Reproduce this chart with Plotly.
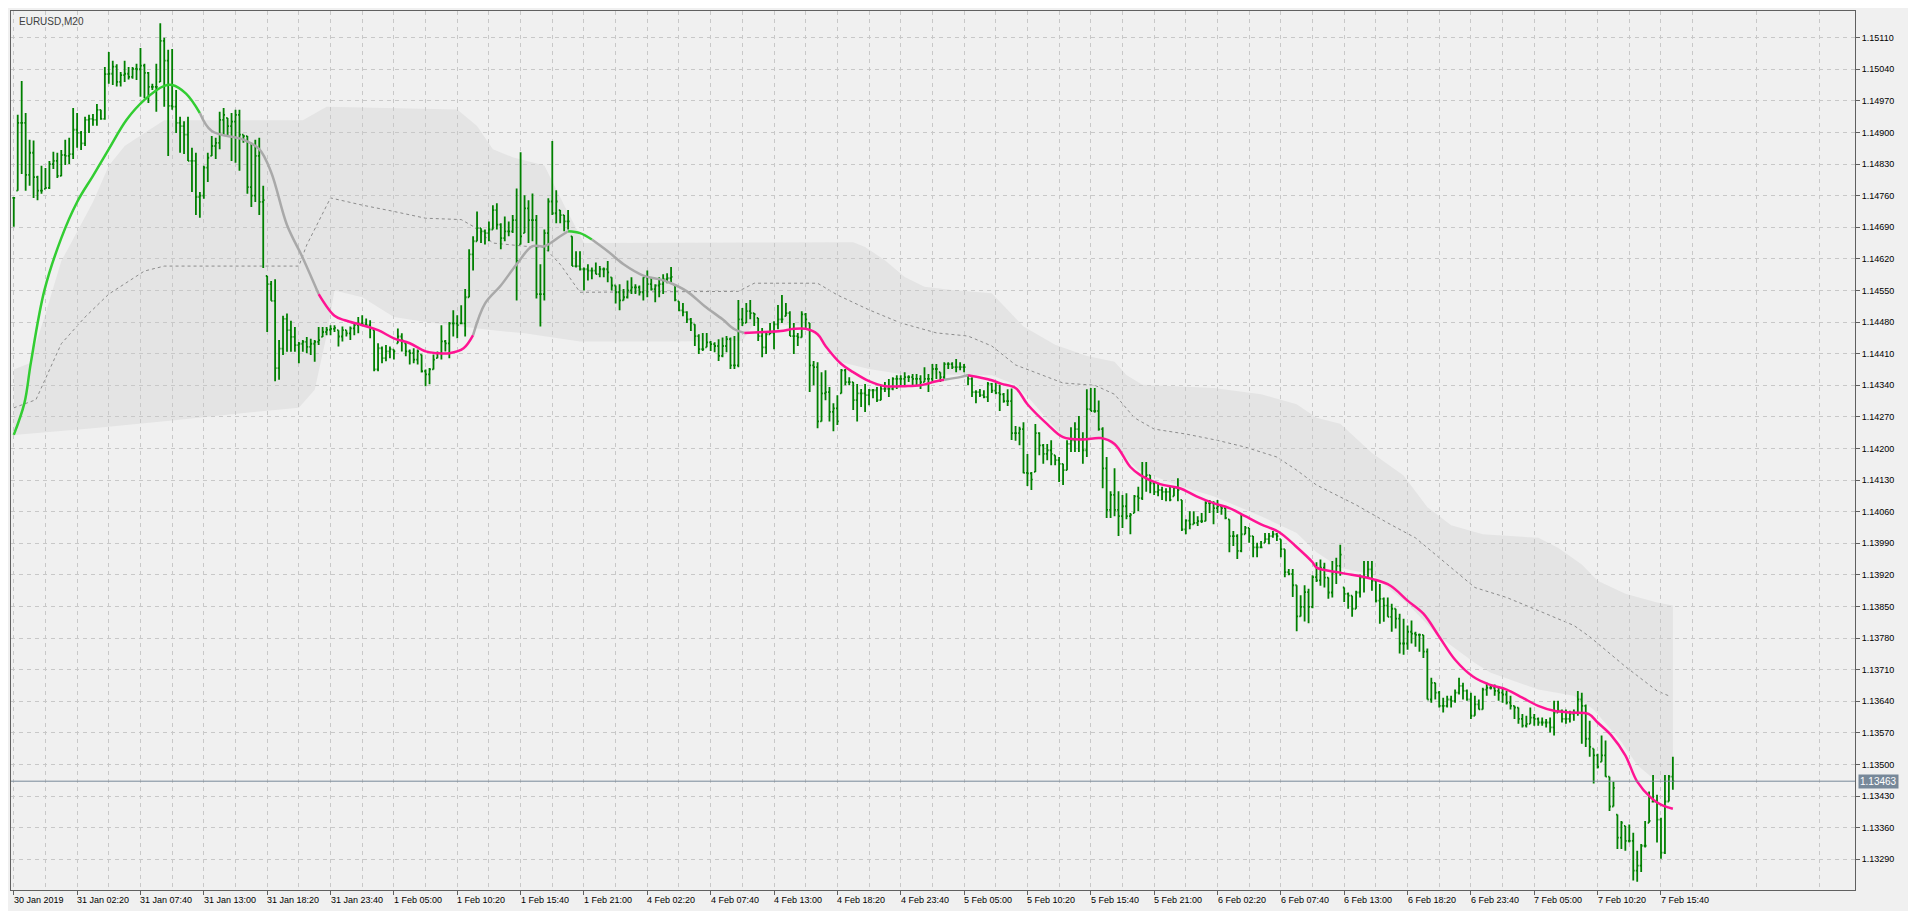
import plotly.graph_objects as go

# EURUSD M20, prices in points above 1.10000 (1 point = 0.00001)
high_pts = [4757, 4939, 5014, 4943, 4884, 4882, 4804, 4826, 4821, 4837, 4857, 4855, 4861, 4884, 4888, 4954, 4943, 4903, 4935, 4939,
            4941, 4963, 4950, 5045, 5078, 5059, 5051, 5034, 5059, 5045, 5045, 5052, 5087, 5052, 5034, 5008, 5052, 5142, 5110, 5083,
            5085, 4994, 4935, 4925, 4935, 4866, 4855, 4768, 4826, 4855, 4892, 4888, 4946, 4954, 4932, 4943, 4950, 4950, 4895, 4892,
            4877, 4884, 4888, 4782, 4582, 4571, 4575, 4440, 4494, 4499, 4483, 4469, 4436, 4440, 4447, 4443, 4440, 4469, 4469, 4469,
            4473, 4473,
            4462, 4470, 4462, 4470, 4477, 4491, 4495, 4488, 4484, 4462, 4433, 4426, 4429, 4426, 4419, 4466, 4455, 4433, 4419, 4422,
            4419, 4408, 4375, 4378, 4408, 4415, 4473, 4440, 4480, 4506, 4495, 4517, 4553, 4641, 4670, 4725, 4688, 4685, 4703, 4739,
            4743, 4699, 4714, 4703, 4717, 4776, 4856, 4761, 4750, 4765, 4717, 4608, 4685, 4754, 4881, 4772, 4728, 4717, 4728, 4670,
            4637, 4637, 4601, 4608, 4601, 4612, 4604, 4601, 4615, 4579, 4561, 4564, 4553, 4572, 4579, 4564, 4561, 4579, 4594, 4579,
            4564, 4579, 4586,
            4588, 4602, 4562, 4526, 4522, 4504, 4489, 4475, 4453, 4456, 4456, 4438, 4435, 4442, 4446, 4449, 4446, 4449, 4529, 4511,
            4522, 4529, 4500, 4489, 4467, 4460, 4478, 4482, 4518, 4540, 4522, 4504, 4478, 4456, 4504, 4500, 4478, 4394, 4391, 4369,
            4373, 4336, 4300, 4318, 4376, 4376, 4358, 4347, 4343, 4332, 4343, 4332, 4332, 4336, 4340, 4347, 4354, 4358, 4362, 4362,
            4369, 4362, 4365, 4365, 4362, 4380, 4365, 4387, 4387, 4369, 4391, 4391, 4391, 4398, 4391, 4387, 4362, 4358, 4329, 4332,
            4329, 4347,
            4345, 4345, 4341, 4323, 4331, 4333, 4250, 4248, 4258, 4188, 4148, 4254, 4236, 4210, 4210, 4218, 4185, 4181, 4166, 4218,
            4247, 4258, 4272, 4236, 4331, 4334, 4334, 4306, 4247, 4181, 4105, 4156, 4105, 4097, 4101, 4057, 4097, 4115, 4170, 4170,
            4141, 4126, 4123, 4115, 4112, 4115, 4115, 4134, 4086, 4043, 4061, 4061, 4050, 4057, 4083, 4086, 4083, 4086, 4075, 4072,
            4043, 4017, 4010, 4053, 4028, 4024, 4006, 3991, 3995, 4013, 4013, 4017, 4013, 3999, 3977, 3933, 3933, 3897, 3875, 3897,
            3889, 3919, 3948,
            3954, 3947, 3914, 3951, 3958, 3987, 3892, 3881, 3874, 3885, 3921, 3951, 3951, 3951, 3907, 3900, 3870, 3870, 3856, 3845,
            3834, 3823, 3808, 3819, 3794, 3790, 3787, 3757, 3692, 3681, 3663, 3648, 3652, 3652, 3666, 3692, 3681, 3666, 3659, 3652,
            3644, 3670, 3681, 3677, 3677, 3674, 3670, 3663, 3652, 3630, 3626, 3612, 3608, 3626, 3612, 3604, 3604, 3601, 3604, 3641,
            3641, 3622, 3622, 3619, 3622, 3663, 3659, 3633, 3597, 3535, 3524, 3564, 3553, 3473, 3462,
            3389, 3375, 3364, 3367, 3349, 3309, 3324, 3375, 3440, 3477, 3433, 3382, 3477, 3477, 3517]

low_pts = [4691, 4771, 4808, 4771, 4782, 4755, 4750, 4764, 4775, 4775, 4819, 4799, 4803, 4828, 4830, 4841, 4866, 4861, 4870, 4899,
           4915, 4915, 4928, 4928, 5008, 5005, 5002, 5002, 5012, 5017, 5019, 5016, 4979, 4976, 4965, 4994, 4946, 5012, 4957, 4848,
           4950, 4899, 4855, 4852, 4837, 4768, 4717, 4711, 4753, 4790, 4848, 4841, 4863, 4892, 4892, 4837, 4833, 4815, 4877, 4764,
           4735, 4746, 4717, 4600, 4458, 4527, 4349, 4352, 4407, 4414, 4414, 4414, 4389, 4414, 4411, 4407, 4392, 4429, 4447, 4451,
           4451, 4458,
           4426, 4437, 4448, 4440, 4451, 4455, 4473, 4470, 4444, 4371, 4371, 4389, 4393, 4400, 4397, 4433, 4415, 4404, 4386, 4389,
           4386, 4368, 4338, 4342, 4375, 4400, 4397, 4415, 4400, 4448, 4444, 4477, 4448, 4535, 4594, 4659, 4655, 4652, 4659, 4685,
           4685, 4641, 4659, 4670, 4677, 4528, 4652, 4677, 4655, 4659, 4532, 4470, 4528, 4637, 4717, 4699, 4699, 4681, 4685, 4604,
           4601, 4594, 4550, 4572, 4575, 4586, 4579, 4579, 4568, 4550, 4521, 4506, 4528, 4532, 4542, 4542, 4539, 4528, 4535, 4550,
           4524, 4535, 4542,
           4566, 4569, 4526, 4504, 4493, 4478, 4460, 4427, 4409, 4416, 4424, 4416, 4413, 4394, 4402, 4413, 4376, 4376, 4380, 4471,
           4478, 4486, 4471, 4438, 4402, 4409, 4453, 4420, 4464, 4478, 4493, 4449, 4409, 4427, 4446, 4467, 4325, 4340, 4245, 4260,
           4307, 4260, 4238, 4252, 4322, 4340, 4340, 4285, 4260, 4292, 4281, 4296, 4311, 4303, 4307, 4325, 4314, 4329, 4332, 4340,
           4336, 4347, 4340, 4340, 4332, 4347, 4325, 4347, 4354, 4347, 4354, 4376, 4376, 4369, 4373, 4369, 4340, 4314, 4300, 4314,
           4311, 4303,
           4323, 4320, 4283, 4301, 4294, 4219, 4217, 4207, 4145, 4117, 4108, 4148, 4185, 4166, 4174, 4163, 4163, 4126, 4119, 4152,
           4192, 4192, 4192, 4166, 4181, 4283, 4279, 4239, 4112, 4046, 4046, 4050, 4006, 4024, 4043, 4010, 4057, 4061, 4086, 4104,
           4101, 4097, 4094, 4086, 4083, 4083, 4094, 4083, 4017, 4010, 4021, 4032, 4028, 4035, 4039, 4057, 4032, 4057, 4053, 4043,
           3970, 3984, 3955, 3970, 4010, 3991, 3959, 3959, 3981, 3991, 3988, 4002, 3995, 3959, 3915, 3919, 3871, 3795, 3828, 3817,
           3813, 3846, 3904,
           3896, 3892, 3867, 3870, 3900, 3918, 3860, 3845, 3827, 3845, 3870, 3881, 3914, 3885, 3859, 3812, 3816, 3827, 3794, 3801,
           3746, 3743, 3754, 3768, 3761, 3750, 3736, 3644, 3637, 3644, 3626, 3615, 3626, 3626, 3637, 3655, 3644, 3641, 3601, 3608,
           3622, 3622, 3652, 3666, 3652, 3641, 3637, 3633, 3622, 3601, 3590, 3582, 3582, 3590, 3586, 3586, 3586, 3582, 3571, 3564,
           3615, 3593, 3590, 3593, 3597, 3608, 3546, 3539, 3517, 3458, 3491, 3506, 3473, 3397, 3407,
           3313, 3313, 3309, 3327, 3243, 3240, 3262, 3316, 3371, 3418, 3327, 3291, 3302, 3418, 3444]

close_pts = [4755, 4921, 4921, 4806, 4855, 4801, 4771, 4771, 4777, 4830, 4837, 4804, 4850, 4848, 4852, 4906, 4899, 4876, 4928, 4930,
             4928, 4950, 4930, 5029, 5030, 5046, 5012, 5027, 5030, 5023, 5041, 5040, 5048, 5032, 5001, 5001, 5001, 5103, 5059, 4959,
             4957, 4921, 4914, 4895, 4837, 4837, 4757, 4760, 4822, 4844, 4870, 4877, 4928, 4939, 4914, 4924, 4939, 4895, 4892, 4779,
             4760, 4848, 4746, 4750, 4564, 4527, 4378, 4421, 4487, 4462, 4447, 4429, 4432, 4436, 4425, 4432, 4436, 4440, 4458, 4463,
             4465, 4467,
             4448, 4462, 4455, 4466, 4473, 4477, 4475, 4473, 4466, 4375, 4422, 4400, 4415, 4420, 4415, 4448, 4440, 4415, 4411, 4397,
             4415, 4371, 4364, 4375, 4397, 4411, 4437, 4433, 4477, 4477, 4473, 4477, 4535, 4630, 4659, 4688, 4681, 4677, 4685, 4728,
             4696, 4666, 4681, 4681, 4706, 4615, 4670, 4732, 4706, 4706, 4542, 4542, 4677, 4747, 4721, 4747, 4717, 4703, 4703, 4604,
             4604, 4597, 4597, 4594, 4594, 4586, 4597, 4597, 4590, 4561, 4546, 4528, 4535, 4550, 4557, 4557, 4546, 4579, 4564, 4553,
             4561, 4564, 4575,
             4577, 4580, 4529, 4506, 4502, 4486, 4478, 4449, 4420, 4420, 4435, 4431, 4427, 4405, 4427, 4442, 4384, 4384, 4486, 4478,
             4504, 4500, 4497, 4449, 4424, 4453, 4456, 4475, 4486, 4486, 4500, 4449, 4449, 4446, 4497, 4486, 4384, 4380, 4260, 4322,
             4325, 4281, 4289, 4260, 4373, 4347, 4347, 4307, 4322, 4322, 4318, 4329, 4329, 4307, 4332, 4332, 4332, 4354, 4354, 4354,
             4358, 4358, 4354, 4354, 4347, 4354, 4354, 4376, 4376, 4358, 4387, 4387, 4380, 4380, 4380, 4380, 4354, 4325, 4325, 4318,
             4314, 4343,
             4328, 4323, 4320, 4305, 4305, 4234, 4234, 4243, 4146, 4145, 4131, 4234, 4207, 4188, 4196, 4188, 4174, 4166, 4152, 4210,
             4218, 4243, 4221, 4196, 4287, 4283, 4283, 4243, 4156, 4064, 4097, 4064, 4050, 4072, 4050, 4053, 4094, 4090, 4137, 4141,
             4123, 4104, 4108, 4104, 4104, 4086, 4112, 4108, 4021, 4040, 4032, 4035, 4039, 4039, 4079, 4079, 4068, 4072, 4068, 4046,
             4006, 4006, 3973, 4010, 4024, 4006, 3981, 3981, 3981, 3999, 4006, 4010, 4006, 3977, 3926, 3922, 3897, 3828, 3849, 3882,
             3849, 3915, 3908,
             3936, 3914, 3881, 3925, 3940, 3965, 3878, 3874, 3845, 3881, 3914, 3914, 3932, 3907, 3863, 3867, 3852, 3827, 3845, 3823,
             3768, 3768, 3794, 3790, 3787, 3787, 3750, 3644, 3681, 3659, 3630, 3630, 3644, 3641, 3659, 3674, 3663, 3644, 3608, 3633,
             3622, 3666, 3670, 3670, 3663, 3659, 3655, 3637, 3630, 3626, 3601, 3586, 3590, 3604, 3601, 3593, 3593, 3593, 3582, 3615,
             3619, 3601, 3601, 3612, 3615, 3644, 3630, 3557, 3539, 3520, 3495, 3520, 3473, 3407, 3448,
             3338, 3371, 3331, 3331, 3265, 3276, 3320, 3320, 3375, 3418, 3378, 3305, 3418, 3473, 3463]

# smoothed trend line; colour code per segment (g rising, x neutral, m falling)
ma_bar = [0, 2.7, 4.3, 7.7, 12, 16, 20, 24, 28.5, 33, 38, 40, 43.5, 47, 50, 58, 62, 65, 69, 73, 77, 81,
          83.6, 88, 92, 96, 100, 104, 107, 110, 113.6, 116, 119, 123, 127, 131, 134, 138, 140, 143, 146, 150, 154, 159, 163,
          166, 170, 174.5, 179, 182, 184.5, 189.5, 193.7, 197, 200, 203, 205, 209, 212, 216, 220, 225, 229, 233, 235, 239, 241, 244, 247,
          249.5, 253, 256, 261, 265, 270, 274.5, 278, 282, 284.5, 289.5, 294.5, 298.7, 303, 307, 311, 315, 319.5, 323.7, 328,
          329, 335, 343.5, 347.7, 352, 356, 360, 364, 368.5, 372.7, 377, 381, 385, 389, 393.5, 397.7, 400, 403.5, 407, 410, 413.5, 416, 419]
ma_pts = [4230, 4301, 4389, 4549, 4666, 4746, 4804, 4863, 4928, 4972, 5003, 5005, 4986, 4943, 4903, 4884, 4863, 4812, 4695, 4622, 4542, 4494,
          4484, 4473, 4462, 4444, 4433, 4415, 4411, 4411, 4422, 4451, 4521, 4561, 4608, 4648, 4648, 4670, 4681, 4677, 4663, 4637, 4608, 4583, 4575,
          4566, 4548, 4515, 4486, 4464, 4456, 4458, 4460, 4465, 4465, 4453, 4427, 4387, 4369, 4349, 4338, 4338, 4340, 4349, 4352, 4358, 4362, 4357, 4351,
          4343, 4334, 4298, 4254, 4225, 4220, 4223, 4210, 4159, 4141, 4121, 4112, 4094, 4079, 4068, 4050, 4032, 4015, 3984, 3948,
          3936, 3925, 3910, 3896, 3863, 3834, 3783, 3732, 3695, 3677, 3666, 3648, 3630, 3619, 3615, 3612, 3593, 3564, 3520, 3462, 3426, 3411, 3402]
ma_code = "ggggggggggggg" + "xxxxxxx" + "mm" + "mmmmmmmmm" + "xxxxxxx" + "gg" + "xxxxx" + "xxxxx" + "mmmmmmmmmmmmmm" + "xx" + "mmm" + \
          "m" * 20 + "m" * 23

upper_bar = [0, 4, 8, 12, 16, 20, 24, 28, 33, 38, 73, 79, 112, 117, 121, 126, 134, 139, 144, 212, 215, 220, 225, 230, 237, 247,
             255, 263, 271, 278, 281, 285, 303, 315, 324, 329, 335, 343, 351, 357, 363, 371, 385, 390, 396, 400, 407, 415, 419]
upper_pts = [4375, 4389, 4498, 4615, 4680, 4746, 4826, 4870, 4899, 4927, 4927, 4957, 4951, 4914, 4863, 4845, 4827, 4739, 4655, 4657,
             4646, 4617, 4580, 4558, 4551, 4544, 4470, 4430, 4405, 4392, 4363, 4341, 4334, 4320, 4298, 4268, 4255, 4190, 4140, 4070,
             4030, 4010, 4002, 3980, 3943, 3907, 3878, 3859, 3852]
lower_bar = [0, 20, 40, 60, 72, 76, 79, 81, 88, 96, 104, 113, 121, 129, 143, 164, 184, 187, 201, 209, 216, 224, 247, 253, 257,
             265, 276, 280, 284, 295, 303, 315, 324, 329, 335, 343, 352, 360, 369, 373, 385, 394, 399, 406, 410, 414, 419]
lower_pts = [4230, 4245, 4262, 4280, 4290, 4330, 4450, 4550, 4535, 4491, 4480, 4470, 4462, 4455, 4437, 4437, 4438, 4478, 4471, 4391,
             4376, 4365, 4362, 4341, 4305, 4225, 4218, 4188, 4152, 4115, 4094, 4050, 4013, 3970, 3936, 3921, 3856, 3783, 3725, 3703,
             3666, 3652, 3622, 3550, 3499, 3469, 3462]
mid_bar = [0, 5.6, 12, 18, 24, 33, 38, 72, 74, 80, 88, 96, 104, 113, 116, 121, 129, 134, 138, 143, 183, 187, 203, 208, 216, 224,
           233, 241, 247, 253, 265, 273, 278, 283, 288, 296, 304, 311, 319, 324, 329, 339, 347, 354, 360, 369, 377, 385, 394, 398,
           407, 415, 418]
mid_pts = [4290, 4308, 4432, 4491, 4542, 4593, 4604, 4604, 4651, 4755, 4739, 4725, 4710, 4707, 4692, 4655, 4648, 4645, 4608, 4546,
           4548, 4566, 4566, 4540, 4507, 4478, 4456, 4449, 4427, 4385, 4345, 4340, 4320, 4268, 4243, 4232, 4218, 4203, 4181, 4152,
           4119, 4075, 4035, 4002, 3958, 3892, 3870, 3841, 3808, 3783, 3717, 3663, 3652]

time_labels = ["30 Jan 2019", "31 Jan 02:20", "31 Jan 07:40", "31 Jan 13:00", "31 Jan 18:20", "31 Jan 23:40",
               "1 Feb 05:00", "1 Feb 10:20", "1 Feb 15:40", "1 Feb 21:00", "4 Feb 02:20", "4 Feb 07:40", "4 Feb 13:00",
               "4 Feb 18:20", "4 Feb 23:40", "5 Feb 05:00", "5 Feb 10:20", "5 Feb 15:40", "5 Feb 21:00", "6 Feb 02:20",
               "6 Feb 07:40", "6 Feb 13:00", "6 Feb 18:20", "6 Feb 23:40", "7 Feb 05:00", "7 Feb 10:20", "7 Feb 15:40"]
last_price = 1.13463


def px(p):
    return 1.1 + p / 100000


n = len(close_pts)
bars = list(range(n))
# open tick = previous close, kept inside the bar's range
opens = [close_pts[0]] + close_pts[:-1]
opens = [min(max(o, l), h) for o, l, h in zip(opens, low_pts, high_pts)]

fig = go.Figure()

# band as a shape below the bars (a filled scatter would cover the ohlc layer)
pts = list(zip(upper_bar, upper_pts)) + list(zip(lower_bar[::-1], lower_pts[::-1]))
band_path = "M " + " L ".join(f"{b},{px(v):.5f}" for b, v in pts) + " Z"
mid_path = "M " + " L ".join(f"{b},{px(v):.5f}" for b, v in zip(mid_bar, mid_pts))

fig.add_shape(type="path", path=band_path, xref="x", yref="y", fillcolor="#e4e4e4",
              line=dict(width=0), layer="below")
fig.add_shape(type="path", path=mid_path, xref="x", yref="y",
              line=dict(color="#8c8c8c", width=1, dash="3px,3px"), layer="below")

fig.add_trace(go.Ohlc(x=bars, open=[px(v) for v in opens], high=[px(v) for v in high_pts],
                      low=[px(v) for v in low_pts], close=[px(v) for v in close_pts],
                      increasing=dict(line=dict(color="#008000", width=1.8)),
                      decreasing=dict(line=dict(color="#008000", width=1.8)),
                      tickwidth=0.35, showlegend=False))

colors = {"g": "#32cd32", "x": "#a9a9a9", "m": "#ff1493"}
code = (ma_code + "m" * len(ma_bar))[:len(ma_bar)]
start = 0
for i in range(1, len(ma_bar)):
    if i == len(ma_bar) - 1 or code[i] != code[start]:
        fig.add_trace(go.Scatter(x=ma_bar[start:i + 1], y=[px(v) for v in ma_pts[start:i + 1]], mode="lines",
                                 line=dict(color=colors[code[start]], width=2.5, shape="spline"), showlegend=False))
        start = i

fig.add_hline(y=last_price, line=dict(color="#778899", width=1))

lab_font = dict(family="Liberation Sans", size=9, color="#000000")
ann = [dict(x=0.003, y=0.997, xref="paper", yref="paper", text="EURUSD,M20", showarrow=False,
            xanchor="left", yanchor="top", font=dict(family="Liberation Sans", size=10, color="#404040")),
       dict(x=1.0, y=last_price, xref="paper", yref="y", text="1.13463", showarrow=False, xanchor="left",
            xshift=3, bgcolor="#778899", font=dict(family="Liberation Sans", size=10, color="white"), borderpad=1)]
for k, lab in enumerate(time_labels):
    ann.append(dict(x=16 * k, y=0, xref="x", yref="paper", text=lab, showarrow=False, xanchor="left",
                    yanchor="top", xshift=-2, yshift=-3, font=lab_font))

grid_dash = "4px,4px"
fig.update_layout(
    autosize=True, paper_bgcolor="#f0f0f0", plot_bgcolor="#f0f0f0",
    margin=dict(l=3, r=53, t=3, b=21),
    font=lab_font,
    annotations=ann,
    xaxis=dict(range=[-0.7, 465], rangeslider=dict(visible=False), tickvals=[16 * k for k in range(len(time_labels))],
               ticktext=["" for _ in time_labels], ticks="outside", ticklen=4, tickcolor="#606060",
               showgrid=True, gridcolor="#c8c8c8", griddash=grid_dash, zeroline=False,
               minor=dict(tick0=8, dtick=16, showgrid=True, gridcolor="#c8c8c8", griddash=grid_dash),
               showline=True, linecolor="#606060", mirror=True),
    yaxis=dict(range=[1.13222, 1.15169], side="right", tick0=1.1329, dtick=0.0007, tickformat=".5f",
               ticks="outside", ticklen=4, tickcolor="#606060", showgrid=True, gridcolor="#c8c8c8",
               griddash=grid_dash, zeroline=False, showline=True, linecolor="#606060", mirror=True, tickfont=lab_font),
)

fig.write_html("out.html", config={"responsive": True}, default_width="100%", default_height="100%")
